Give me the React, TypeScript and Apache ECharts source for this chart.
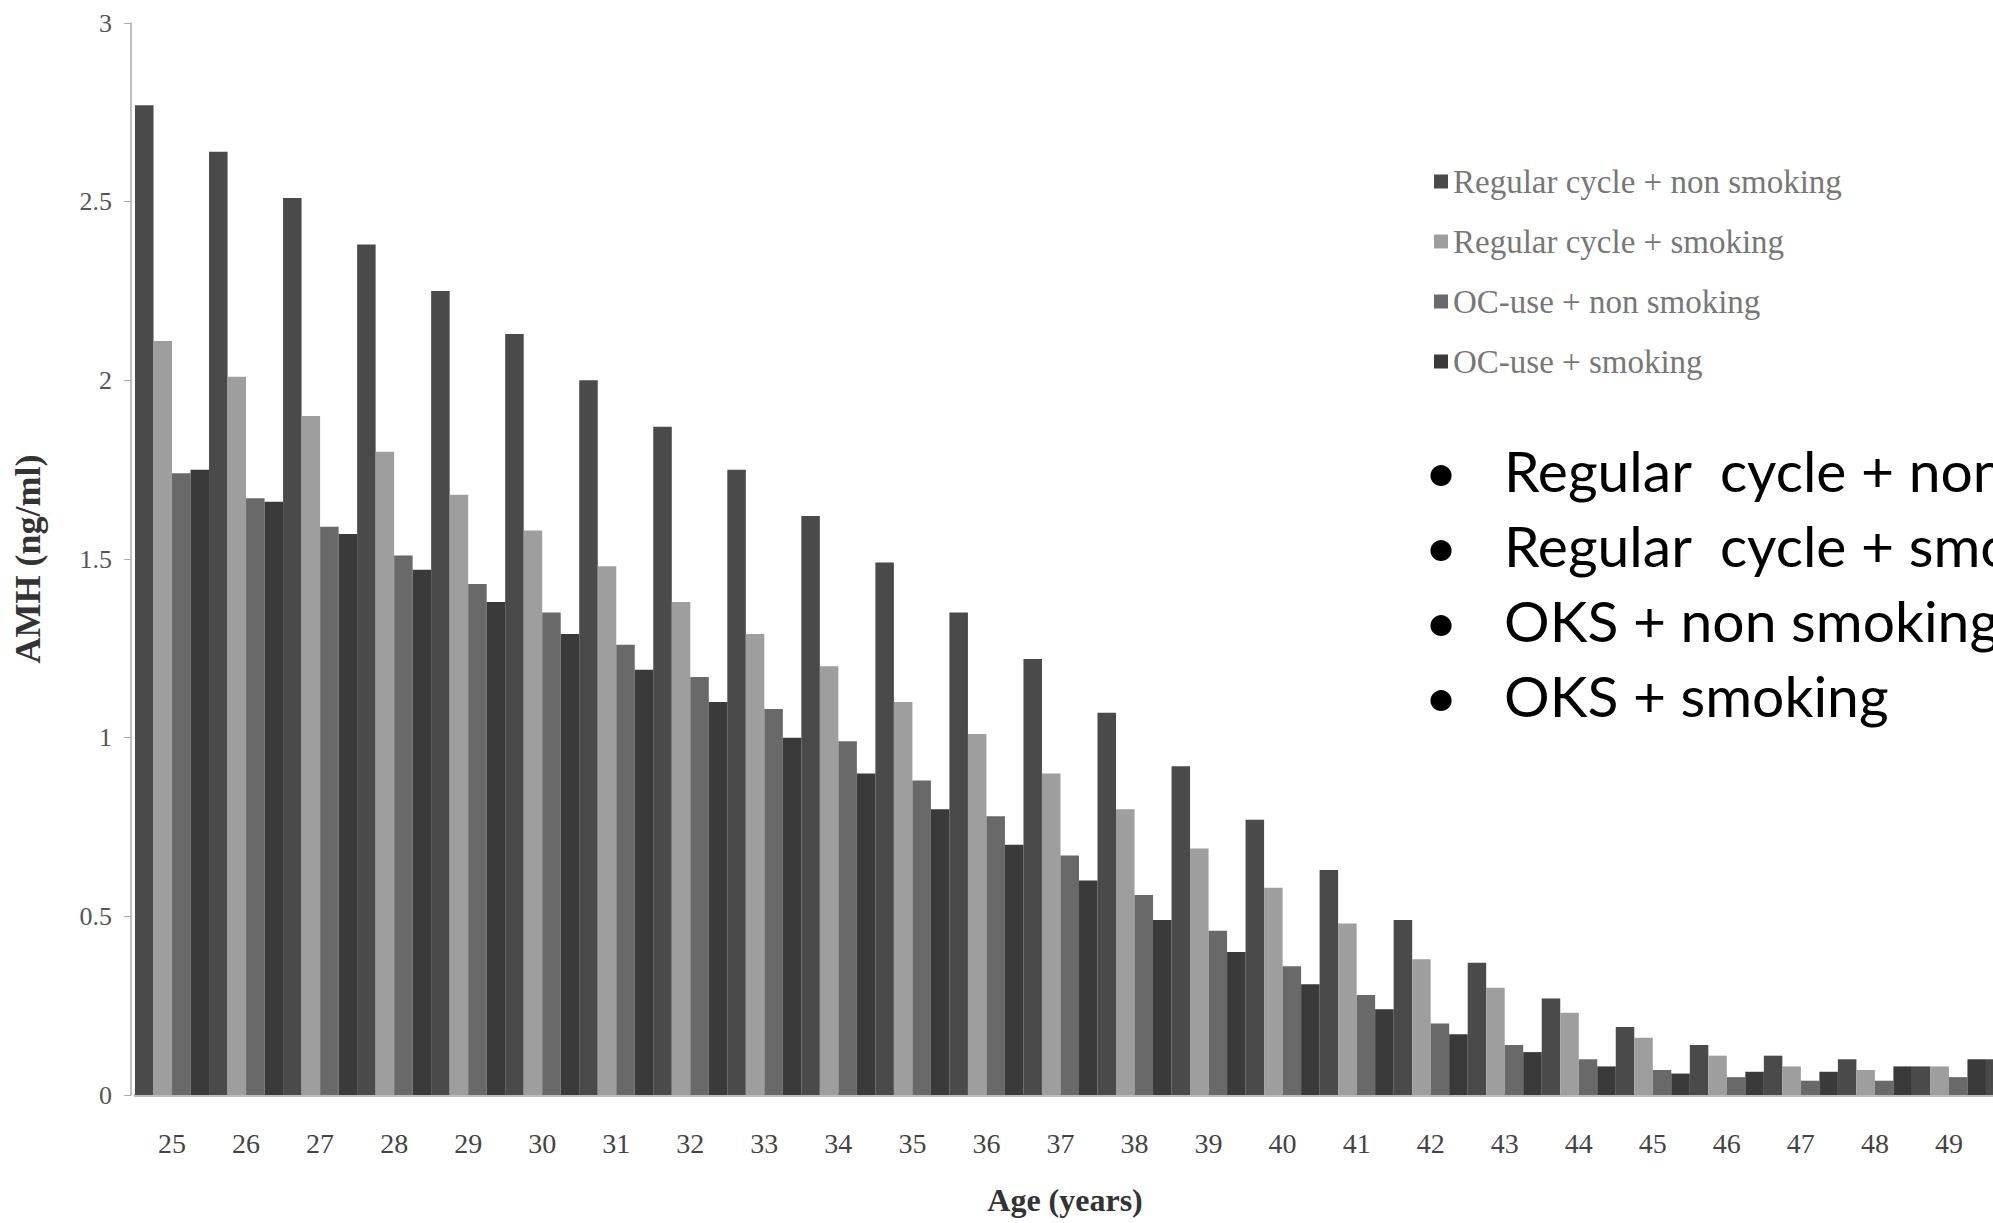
import React, { useEffect, useRef } from "react";
import * as echarts from "echarts";

const ages = ["25","26","27","28","29","30","31","32","33","34","35","36","37","38","39","40","41","42","43","44","45","46","47","48","49","50"];

const regularNonSmoking = [2.77,2.64,2.51,2.38,2.25,2.13,2.00,1.87,1.75,1.62,1.49,1.35,1.22,1.07,0.92,0.77,0.63,0.49,0.37,0.27,0.19,0.14,0.11,0.10,0.08,0.10];
const regularSmoking = [2.11,2.01,1.90,1.80,1.68,1.58,1.48,1.38,1.29,1.20,1.10,1.01,0.90,0.80,0.69,0.58,0.48,0.38,0.30,0.23,0.16,0.11,0.08,0.07,0.08,0.07];
const ocNonSmoking = [1.74,1.67,1.59,1.51,1.43,1.35,1.26,1.17,1.08,0.99,0.88,0.78,0.67,0.56,0.46,0.36,0.28,0.20,0.14,0.10,0.07,0.05,0.04,0.04,0.05,0.04];
const ocSmoking = [1.75,1.66,1.57,1.47,1.38,1.29,1.19,1.10,1.00,0.90,0.80,0.70,0.60,0.49,0.40,0.31,0.24,0.17,0.12,0.08,0.06,0.065,0.065,0.08,0.10,0.06];

const seriesNames = [
  "Regular cycle + non smoking",
  "Regular cycle + smoking",
  "OC-use + non smoking",
  "OC-use + smoking",
];
const seriesColors = ["#4a4a4a", "#9e9e9e", "#696969", "#3a3a3a"];
const seriesData = [regularNonSmoking, regularSmoking, ocNonSmoking, ocSmoking];

const bulletItems = [
  "Regular  cycle + non smoking",
  "Regular  cycle + smoking",
  "OKS + non smoking",
  "OKS + smoking",
];

const yAxisTitle = "AMH (ng/ml)";
const xAxisTitle = "Age (years)";
const hiddenLabel = "50";

export default function App() {
  const ref = useRef<HTMLDivElement>(null);
  useEffect(() => {
    document.body.style.margin = "0";
    document.body.style.overflow = "hidden";
    if (!ref.current) return;
    const chart = echarts.init(ref.current, null, { renderer: "svg" });
    const serif = "'Liberation Serif', 'DejaVu Serif', serif";
    const bulletY = [470, 545, 620, 695];
    chart.setOption({
      animation: false,
      backgroundColor: "#ffffff",
      grid: { left: 135, right: 0, top: 23, bottom: 128, containLabel: false },
      legend: {
        data: seriesNames,
        orient: "vertical",
        left: 1429,
        top: 160,
        itemWidth: 14,
        itemHeight: 14,
        itemGap: 27,
        icon: "rect",
        selectedMode: false,
        textStyle: { fontFamily: serif, fontSize: 33, color: "#777" },
      },
      xAxis: {
        type: "category",
        data: ages,
        axisLine: { show: true, lineStyle: { color: "#bdbdbd", width: 3 } },
        axisTick: { show: false },
        axisLabel: {
          interval: 0,
          fontFamily: serif,
          fontSize: 28,
          color: "#444",
          margin: 34,
          formatter: (v: string) => (v === hiddenLabel ? "" : v),
        },
        splitLine: { show: false },
      },
      yAxis: {
        type: "value",
        min: 0,
        max: 3,
        interval: 0.5,
        offset: 4,
        axisLine: { show: true, lineStyle: { color: "#aaa", width: 1.5 } },
        axisTick: { show: true, length: 7, lineStyle: { color: "#aaa" } },
        splitLine: { show: false },
        axisLabel: { fontFamily: serif, fontSize: 26, color: "#555", margin: 19 },
      },
      series: seriesNames.map((name, i) => ({
        name,
        type: "bar",
        data: seriesData[i],
        barGap: "0%",
        barCategoryGap: "0%",
        itemStyle: { color: seriesColors[i] },
      })),
      graphic: [
        {
          type: "text",
          x: 28,
          y: 559,
          rotation: Math.PI / 2,
          style: {
            text: yAxisTitle,
            fontFamily: serif,
            fontWeight: "bold",
            fontSize: 36,
            fill: "#333",
            align: "center",
            verticalAlign: "middle",
          },
        },
        {
          type: "text",
          x: 1065,
          y: 1200,
          style: {
            text: xAxisTitle,
            fontFamily: serif,
            fontWeight: "bold",
            fontSize: 32,
            fill: "#333",
            align: "center",
            verticalAlign: "middle",
          },
        },
        ...bulletItems.flatMap((t, i) => [
          {
            type: "text",
            x: 1441,
            y: bulletY[i],
            style: {
              text: "•",
              fontFamily: "Lato, 'Open Sans', sans-serif",
              fontSize: 57,
              fill: "#000",
              align: "center",
              verticalAlign: "middle",
            },
          },
          {
            type: "text",
            x: 1504,
            y: bulletY[i],
            style: {
              text: t,
              fontFamily: "Lato, 'Open Sans', sans-serif",
              fontSize: 57,
              fill: "#000",
              align: "left",
              verticalAlign: "middle",
            },
          },
        ]),
      ],
    });
    return () => chart.dispose();
  }, []);
  return (
    <div style={{ position: "absolute", left: 0, top: 0, width: 1993, height: 1223, overflow: "hidden" }}>
      <div ref={ref} style={{ width: 2060, height: 1223 }} />
    </div>
  );
}
